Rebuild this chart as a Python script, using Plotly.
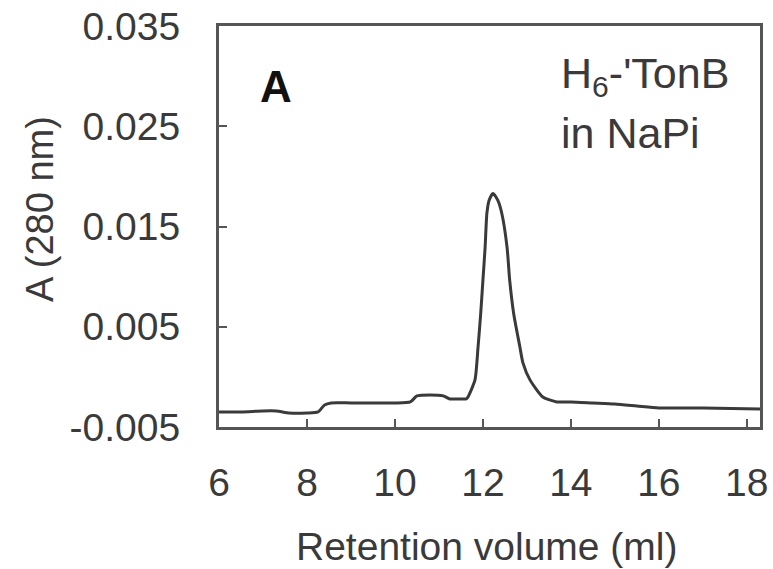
import plotly.graph_objects as go

# Retention volume (ml) and absorbance A(280 nm)
volume = [6.0, 6.5, 7.0, 7.3, 7.6, 8.0, 8.25, 8.4, 8.55, 9.0, 9.5, 10.0, 10.35,
          10.5, 10.8, 11.1, 11.25, 11.5, 11.62, 11.66, 11.82, 11.89, 11.95, 12.0,
          12.05, 12.09, 12.14, 12.23, 12.34, 12.43, 12.55, 12.61, 12.70, 12.84,
          12.91, 13.07, 13.36, 13.68, 14.0, 14.5, 15.0, 15.5, 16.0, 17.0, 18.3]
absorbance = [-0.0035, -0.0035, -0.0034, -0.0034, -0.0036, -0.0036, -0.0035, -0.0028,
              -0.0026, -0.0026, -0.0026, -0.0026, -0.0025,
              -0.0019, -0.0018, -0.0019, -0.0022, -0.0022, -0.0022, -0.0020, -0.0003,
              0.0030, 0.0063, 0.0096,
              0.0129, 0.0163, 0.0176, 0.0183, 0.0176, 0.0163, 0.0129, 0.0096, 0.0063,
              0.0030, 0.0014, -0.0003, -0.0020, -0.0025, -0.0025, -0.0026, -0.0027,
              -0.0029, -0.0031, -0.0031, -0.0032]

x_ticks = [6, 8, 10, 12, 14, 16, 18]
y_ticks = [-0.005, 0.005, 0.015, 0.025, 0.035]
y_tick_text = ["-0.005", "0.005", "0.015", "0.025", "0.035"]

FONT = "Liberation Sans, Arial, sans-serif"
TXT = "#3a3a3a"
AX = "#555555"
FS = 39

fig = go.Figure()
fig.add_trace(go.Scatter(x=volume, y=absorbance, mode="lines",
                         line=dict(color="#3a3a3a", width=3, shape="spline", smoothing=0.6),
                         showlegend=False))

fig.update_layout(
    width=773, height=569,
    margin=dict(l=219, r=13, t=26, b=142),
    paper_bgcolor="white", plot_bgcolor="white",
    font=dict(family=FONT, size=FS, color=TXT),
    xaxis=dict(range=[6, 18.3], tickvals=x_ticks, ticks="inside", ticklen=8,
               tickwidth=2, tickcolor=AX, showline=True, linecolor=AX, linewidth=3,
               mirror=True, showgrid=False, zeroline=False, ticklabelstandoff=19,
               automargin=False, tickfont=dict(size=FS, color=TXT)),
    yaxis=dict(range=[-0.005, 0.035], tickvals=y_ticks, ticktext=y_tick_text,
               ticks="inside", ticklen=8, tickwidth=2, tickcolor=AX, showline=True,
               linecolor=AX, linewidth=3, mirror=True, showgrid=False, zeroline=False,
               ticklabelstandoff=28, automargin=False, tickfont=dict(size=FS, color=TXT)),
    annotations=[
        dict(text="Retention volume (ml)", xref="paper", yref="paper",
             x=(486 - 219) / 541, y=(427 - 546) / 401, xanchor="center", yanchor="middle",
             showarrow=False, font=dict(size=FS, color=TXT)),
        dict(text="A (280 nm)", xref="paper", yref="paper", textangle=-90,
             x=(40 - 219) / 541, y=(427 - 209) / 401, xanchor="center", yanchor="middle",
             showarrow=False, font=dict(size=38, color=TXT)),
        dict(text="<b>A</b>", xref="paper", yref="paper",
             x=(276 - 219) / 541, y=(427 - 87) / 401, xanchor="center", yanchor="middle",
             showarrow=False, font=dict(size=44, color="#111111")),
        dict(text="H<sub>6</sub>-'TonB", xref="paper", yref="paper",
             x=(559 - 219) / 541, y=(427 - 76) / 401, xanchor="left", yanchor="middle",
             showarrow=False, font=dict(size=43, color=TXT)),
        dict(text="in NaPi", xref="paper", yref="paper",
             x=(559 - 219) / 541, y=(427 - 133) / 401, xanchor="left", yanchor="middle",
             showarrow=False, font=dict(size=43, color=TXT)),
    ],
)

fig.write_html("out.html", config={"displayModeBar": False},
               post_script="document.body.style.margin='0';")
